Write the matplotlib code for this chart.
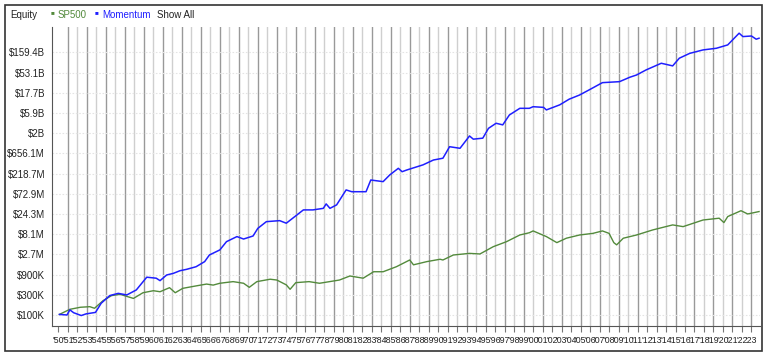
import numpy as np
import matplotlib
matplotlib.use('Agg')
import matplotlib.pyplot as plt
from matplotlib.patches import Rectangle

plt.rcParams['font.family'] = ['Liberation Sans', 'DejaVu Sans']

# 数据 (年份, 资金, 单位: 千美元)
mom_years = [1950.1, 1950.9, 1951.2, 1951.6, 1952.4, 1952.9, 1953.9, 1954.5, 1955.4, 1956.3,
             1957.2, 1958.2, 1959.3, 1960.3, 1960.7, 1961.4, 1962.1, 1962.8, 1963.5, 1964.5,
             1965.4, 1965.9, 1967.0, 1967.7, 1968.8, 1969.5, 1970.5, 1971.0, 1971.9, 1973.3,
             1974.0, 1974.9, 1975.8, 1976.8, 1977.9, 1978.2, 1978.6, 1979.3, 1980.3, 1980.9,
             1982.4, 1982.9, 1984.2, 1984.9, 1985.8, 1986.2, 1986.7, 1988.4, 1989.5, 1990.5,
             1991.2, 1992.3, 1993.3, 1993.7, 1994.7, 1995.3, 1996.1, 1996.8, 1997.5, 1998.6,
             1999.6, 2000.0, 2001.1, 2001.4, 2002.8, 2003.8, 2004.9, 2005.9, 2007.3, 2009.1,
             2010.2, 2010.9, 2011.9, 2013.5, 2014.7, 2015.4, 2016.5, 2017.9, 2019.3, 2020.5,
             2021.7, 2022.1, 2023.0, 2023.5, 2023.8]
mom_k = [103, 100, 132, 113, 97, 106, 115, 189, 287, 324,
         297, 390, 780, 739, 647, 880, 961, 1109, 1197, 1380,
         1820, 2610, 3440, 5390, 7100, 6220, 7340, 11100, 16000, 16900,
         14700, 21100, 30300, 30300, 33000, 42000, 33000, 39800, 89800, 81500,
         81500, 154000, 141000, 203000, 291000, 242000, 266000, 351000, 457000, 504000,
         942000, 864000, 1690000, 1420000, 1500000, 2560000, 3370000, 3090000, 5290000, 7600000,
         7600000, 8300000, 8000000, 6970000, 9170000, 12500000, 15700000, 20700000, 30700000, 32400000,
         41300000, 46600000, 61300000, 88100000, 76400000, 116000000, 151000000, 182000000, 199000000, 239000000,
         452000000, 376000000, 388000000, 326000000, 344000000]

sp_years = [1950.1, 1951.2, 1952.3, 1953.3, 1953.8, 1954.7, 1955.6, 1956.5, 1957.9, 1958.9,
            1960.0, 1960.7, 1961.7, 1962.3, 1963.1, 1964.5, 1965.6, 1966.3, 1967.0, 1968.4,
            1969.5, 1970.1, 1970.9, 1972.3, 1973.0, 1974.0, 1974.4, 1975.0, 1976.4, 1977.5,
            1979.6, 1980.7, 1982.1, 1983.2, 1984.2, 1985.6, 1987.0, 1987.4, 1988.8, 1990.2,
            1990.5, 1991.6, 1993.3, 1994.4, 1995.8, 1997.2, 1998.6, 1999.6, 2000.0, 2001.4,
            2002.5, 2003.5, 2004.9, 2006.3, 2007.3, 2008.0, 2008.5, 2008.8, 2009.5, 2010.9,
            2012.6, 2014.7, 2015.8, 2017.9, 2019.6, 2020.1, 2020.5, 2021.9, 2022.6, 2023.8]
sp_k = [103, 136, 152, 157, 144, 218, 287, 307, 246, 335,
        374, 354, 441, 335, 426, 486, 537, 508, 561, 613,
        561, 450, 613, 699, 669, 514, 404, 580, 613, 561,
        669, 833, 739, 1050, 1050, 1380, 1990, 1530, 1820, 2070,
        1990, 2610, 2850, 2760, 4100, 5390, 7750, 8750, 9660, 7100,
        5110, 6500, 7750, 8460, 9660, 8460, 5110, 4530, 6500, 7750,
        10200, 13400, 12200, 17500, 19300, 15200, 21100, 29000, 24300, 27700]

y_ticks_k = [100, 300, 900, 2700, 8100, 24300, 72900, 218700, 656100,
             1968300, 5904900, 17714700, 53144100, 159432300]
y_labels = ['$100K', '$300K', '$900K', '$2.7M', '$8.1M', '$24.3M', '$72.9M', '$218.7M',
            '$656.1M', '$2B', '$5.9B', '$17.7B', '$53.1B', '$159.4B']
x_years = list(range(1950, 2024))
x_labels = ["'%02d" % (y % 100) for y in x_years]

green = '#538a3c'
blue = '#1f1fff'

fig = plt.figure(figsize=(7.66, 3.55), dpi=100)
ax = fig.add_axes([52/766, 29/355, 708/766, 299/355])

# 竖线 一深一浅
for i, yr in enumerate(range(1951, 2024)):
    c = '#999999' if i % 2 == 0 else '#cfcfcf'
    ax.axvline(yr, color=c, lw=1.0, zorder=0)

ax.plot(sp_years, np.array(sp_k) * 1000, color=green, lw=1.0, zorder=3)
ax.plot(mom_years, np.array(mom_k) * 1000, color=blue, lw=1.1, zorder=4)

ax.set_yscale('log')
ax.set_ylim(54900, 6.33e11)
ax.set_xlim(1949.32, 2023.9)
ax.set_yticks(np.array(y_ticks_k) * 1000)
ax.set_yticklabels(y_labels)
ax.yaxis.set_minor_locator(matplotlib.ticker.NullLocator())
ax.set_xticks(x_years)
ax.set_xticklabels(x_labels)
ax.tick_params(axis='y', length=0, labelsize=7, pad=5, colors='#222222')
ax.tick_params(axis='x', length=4, labelsize=6.3, pad=3, colors='#222222', color='#777777')
ax.grid(axis='y', color='#e4e4e4', lw=0.8, ls=(0, (1.5, 1.5)))
for s in ['top', 'right']:
    ax.spines[s].set_visible(False)
ax.spines['left'].set_color('#555555')
ax.spines['bottom'].set_color('#555555')

# header
fig.text(10/766, 1 - 15/355, 'Equity', fontsize=7, color='#222222', va='center')
fig.text(51/766, 1 - 13/355, '■', fontsize=4.5, color=green, va='center')
fig.text(58/766, 1 - 15/355, 'SP500', fontsize=7, color=green, va='center')
fig.text(95/766, 1 - 13/355, '■', fontsize=4.5, color=blue, va='center')
fig.text(102/766, 1 - 15/355, 'Momentum', fontsize=7, color=blue, va='center')
fig.text(157/766, 1 - 15/355, 'Show All', fontsize=7, color='#222222', va='center')

# 外框
fig.add_artist(Rectangle((5/766, 4/355), 757/766, 346/355, transform=fig.transFigure,
                         fill=False, edgecolor='#333333', lw=1.2))

fig.savefig('out.png', dpi=100)
